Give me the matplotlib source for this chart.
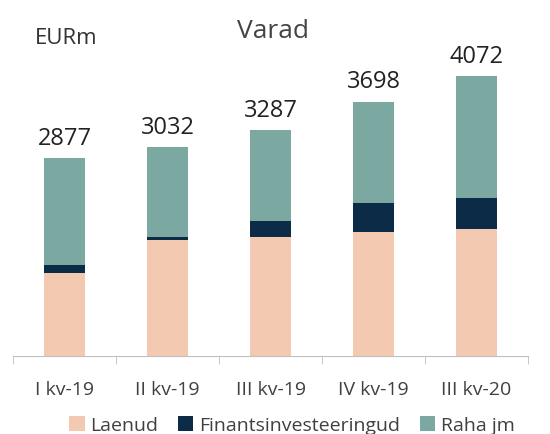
import matplotlib.pyplot as plt
import numpy as np

# andmed (EURm)
quarters = ["I kv-19", "II kv-19", "III kv-19", "IV kv-19", "III kv-20"]
laenud = [1206, 1682, 1725, 1798, 1846]
finants = [120, 48, 237, 421, 451]
raha = [1551, 1302, 1325, 1479, 1775]
totals = [2877, 3032, 3287, 3698, 4072]

plt.rcParams['font.family'] = ['Open Sans', 'DejaVu Sans']

c_laen = "#F3C9B1"
c_fin = "#0B2B47"
c_raha = "#7BA9A1"

fig = plt.figure(figsize=(5.5, 4.35), dpi=100)
ax = fig.add_axes([13 / 550, 1 - 357 / 435, 515 / 550, 330 / 435])

x = np.arange(len(quarters))
w = 0.4
bottom2 = np.array(laenud) + np.array(finants)
ax.bar(x, laenud, w, color=c_laen, label="Laenud")
ax.bar(x, finants, w, bottom=laenud, color=c_fin, label="Finantsinvesteeringud")
ax.bar(x, raha, w, bottom=bottom2, color=c_raha, label="Raha jm")

for i, t in enumerate(totals):
    ax.text(x[i], t + 120, str(t), ha="center", va="bottom", fontsize=17, color="#222222")

ax.set_xlim(-0.5, len(quarters) - 0.5)
ax.set_ylim(0, 330 / 0.0688)
ax.set_yticks([])
for s in ["top", "right", "left"]:
    ax.spines[s].set_visible(False)
ax.spines["bottom"].set_color("#BFBFBF")

# vahejooned kategooriate vahel
ax.set_xticks(np.arange(-0.5, len(quarters), 1), minor=True)
ax.tick_params(axis="x", which="minor", length=6, color="#BFBFBF")
ax.set_xticks(x)
ax.set_xticklabels(quarters, fontsize=14, color="#404040")
ax.tick_params(axis="x", which="major", length=0, pad=17)

fig.text(35 / 550, 1 - 38 / 435, "EURm", fontsize=16, color="#333333", va="center")
fig.text(273 / 550, 1 - 31 / 435, "Varad", fontsize=19, color="#444444", ha="center", va="center")

ax.legend(loc="center", bbox_to_anchor=((292 - 13) / 515, (357 - 426) / 330), ncol=3, frameon=False,
          fontsize=14, handlelength=0.8, handleheight=0.8, handletextpad=0.3, columnspacing=1.0,
          labelcolor="#404040")

fig.savefig("out.png", dpi=100)
